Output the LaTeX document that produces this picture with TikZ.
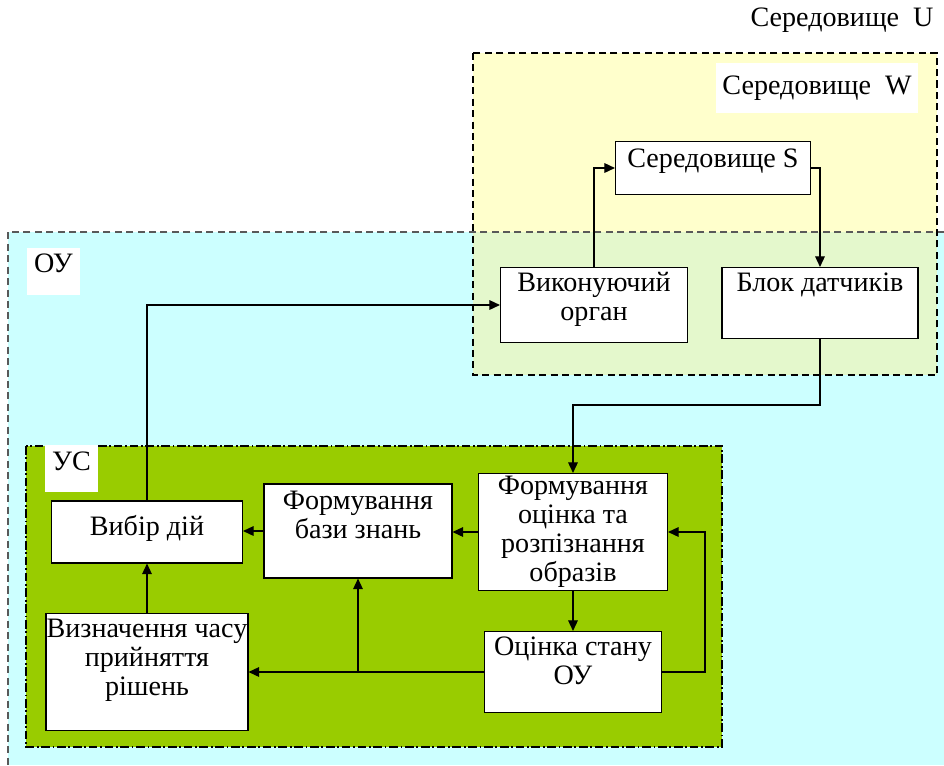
\documentclass[tikz,border=0pt]{standalone}
\usepackage{fontspec}
\setmainfont{Liberation Serif}
\usetikzlibrary{arrows.meta}
\definecolor{oucyan}{HTML}{CCFFFF}
\definecolor{wyellow}{HTML}{FFFFCC}
\definecolor{wgreen}{HTML}{E4F8CC}
\definecolor{usgreen}{HTML}{99CC00}
\newcommand{\fs}{\fontsize{16}{16.6}\selectfont}

\begin{document}
\begin{tikzpicture}[x=0.02cm,y=-0.02cm,
    blk/.style={draw, fill=white, line width=0.65pt, inner sep=0pt},
    txt/.style={align=center, font=\fs, inner sep=0pt},
    lbl/.style={fill=white, font=\fs, inner sep=0pt},
    arr/.style={-{Triangle[length=6pt,width=5.5pt]}, line width=0.65pt},
    zone/.style={dash pattern=on 4pt off 2.5pt, line width=0.6pt}]
    \useasboundingbox (0,0) rectangle (944,765);
    % areas
    \fill[oucyan] (8,232) rectangle (944,765);
    \fill[wyellow] (473,53) rectangle (937,232);
    \fill[wgreen] (473,232) rectangle (937,375);
    \draw[zone, black!65] (944,232) -- (8,232) -- (8,765);
    \draw[zone] (473,53) rectangle (937,375);
    \fill[usgreen] (26,446) rectangle (722,747);
    \draw[dash pattern=on 5pt off 1.5pt on 1pt off 1.5pt, line width=0.6pt] (26,446) rectangle (722,747);
    % area labels
    \node[font=\fs] (envU) at (842,20) {Середовище\enspace U};
    \node[lbl, minimum width=4.04cm, minimum height=1cm] (envW) at (817,88) {Середовище\enspace W};
    \node[lbl, minimum width=1.06cm, minimum height=0.94cm, text depth=9pt] (ou) at (53.5,271.5) {ОУ};
    \node[lbl, minimum width=1.06cm, minimum height=0.94cm, text depth=8pt] (us) at (71.5,468.5) {УС};
    % blocks
    \node[blk, minimum width=3.9cm, minimum height=1.06cm] (S) at (713,168) {};
    \node[blk, minimum width=3.74cm, minimum height=1.5cm] (vyk) at (594,305) {};
    \node[blk, minimum width=3.92cm, minimum height=1.42cm] (blok) at (820,303) {};
    \node[blk, minimum width=3.82cm, minimum height=1.24cm] (vybir) at (147,532) {};
    \node[blk, minimum width=3.76cm, minimum height=1.88cm] (baza) at (358,531) {};
    \node[blk, minimum width=3.78cm, minimum height=2.34cm] (form) at (573,532) {};
    \node[blk, minimum width=4.04cm, minimum height=2.34cm] (vyzn) at (147,672) {};
    \node[blk, minimum width=3.54cm, minimum height=1.62cm] (ocin) at (573,672) {};
    % block texts
    \node[txt] (S-t) at (713,161) {Середовище S};
    \node[txt] (vyk-t) at (594,299) {Виконуючий\\орган};
    \node[txt] (blok-t) at (820,285) {Блок датчиків};
    \node[txt] (vybir-t) at (147,528) {Вибір дій};
    \node[txt] (baza-t) at (358,515) {Формування\\бази знань};
    \node[txt] (form-t) at (573,532) {Формування\\оцінка та\\розпізнання\\образів};
    \node[txt] (vyzn-t) at (147,660) {Визначення часу\\прийняття\\рішень};
    \node[txt] (ocin-t) at (573,661) {Оцінка стану\\ОУ};
    % connectors
    \coordinate (j1) at (700,405);
    \coordinate (j2) at (705,600);
    \coordinate (j3) at (baza.south |- ocin.west);
    \draw[arr] (vyk.north) |- (S.west);
    \draw[arr] (S.east) -| (blok.north);
    \draw[arr] (blok.south) |- (j1) -| (form.north);
    \draw[arr] (vybir.north) |- (vyk.west);
    \draw[arr] (form.west) -- (form.west -| baza.east);
    \draw[arr] (baza.west) -- (baza.west -| vybir.east);
    \draw[arr] (vyzn.north) -- (vybir.south);
    \draw[arr] (form.south) -- (ocin.north);
    \draw[arr] (ocin.west) -- (vyzn.east);
    \draw[arr] (j3) -- (baza.south);
    \draw[arr] (ocin.east) -| (j2) |- (form.east);
\end{tikzpicture}
\end{document}
